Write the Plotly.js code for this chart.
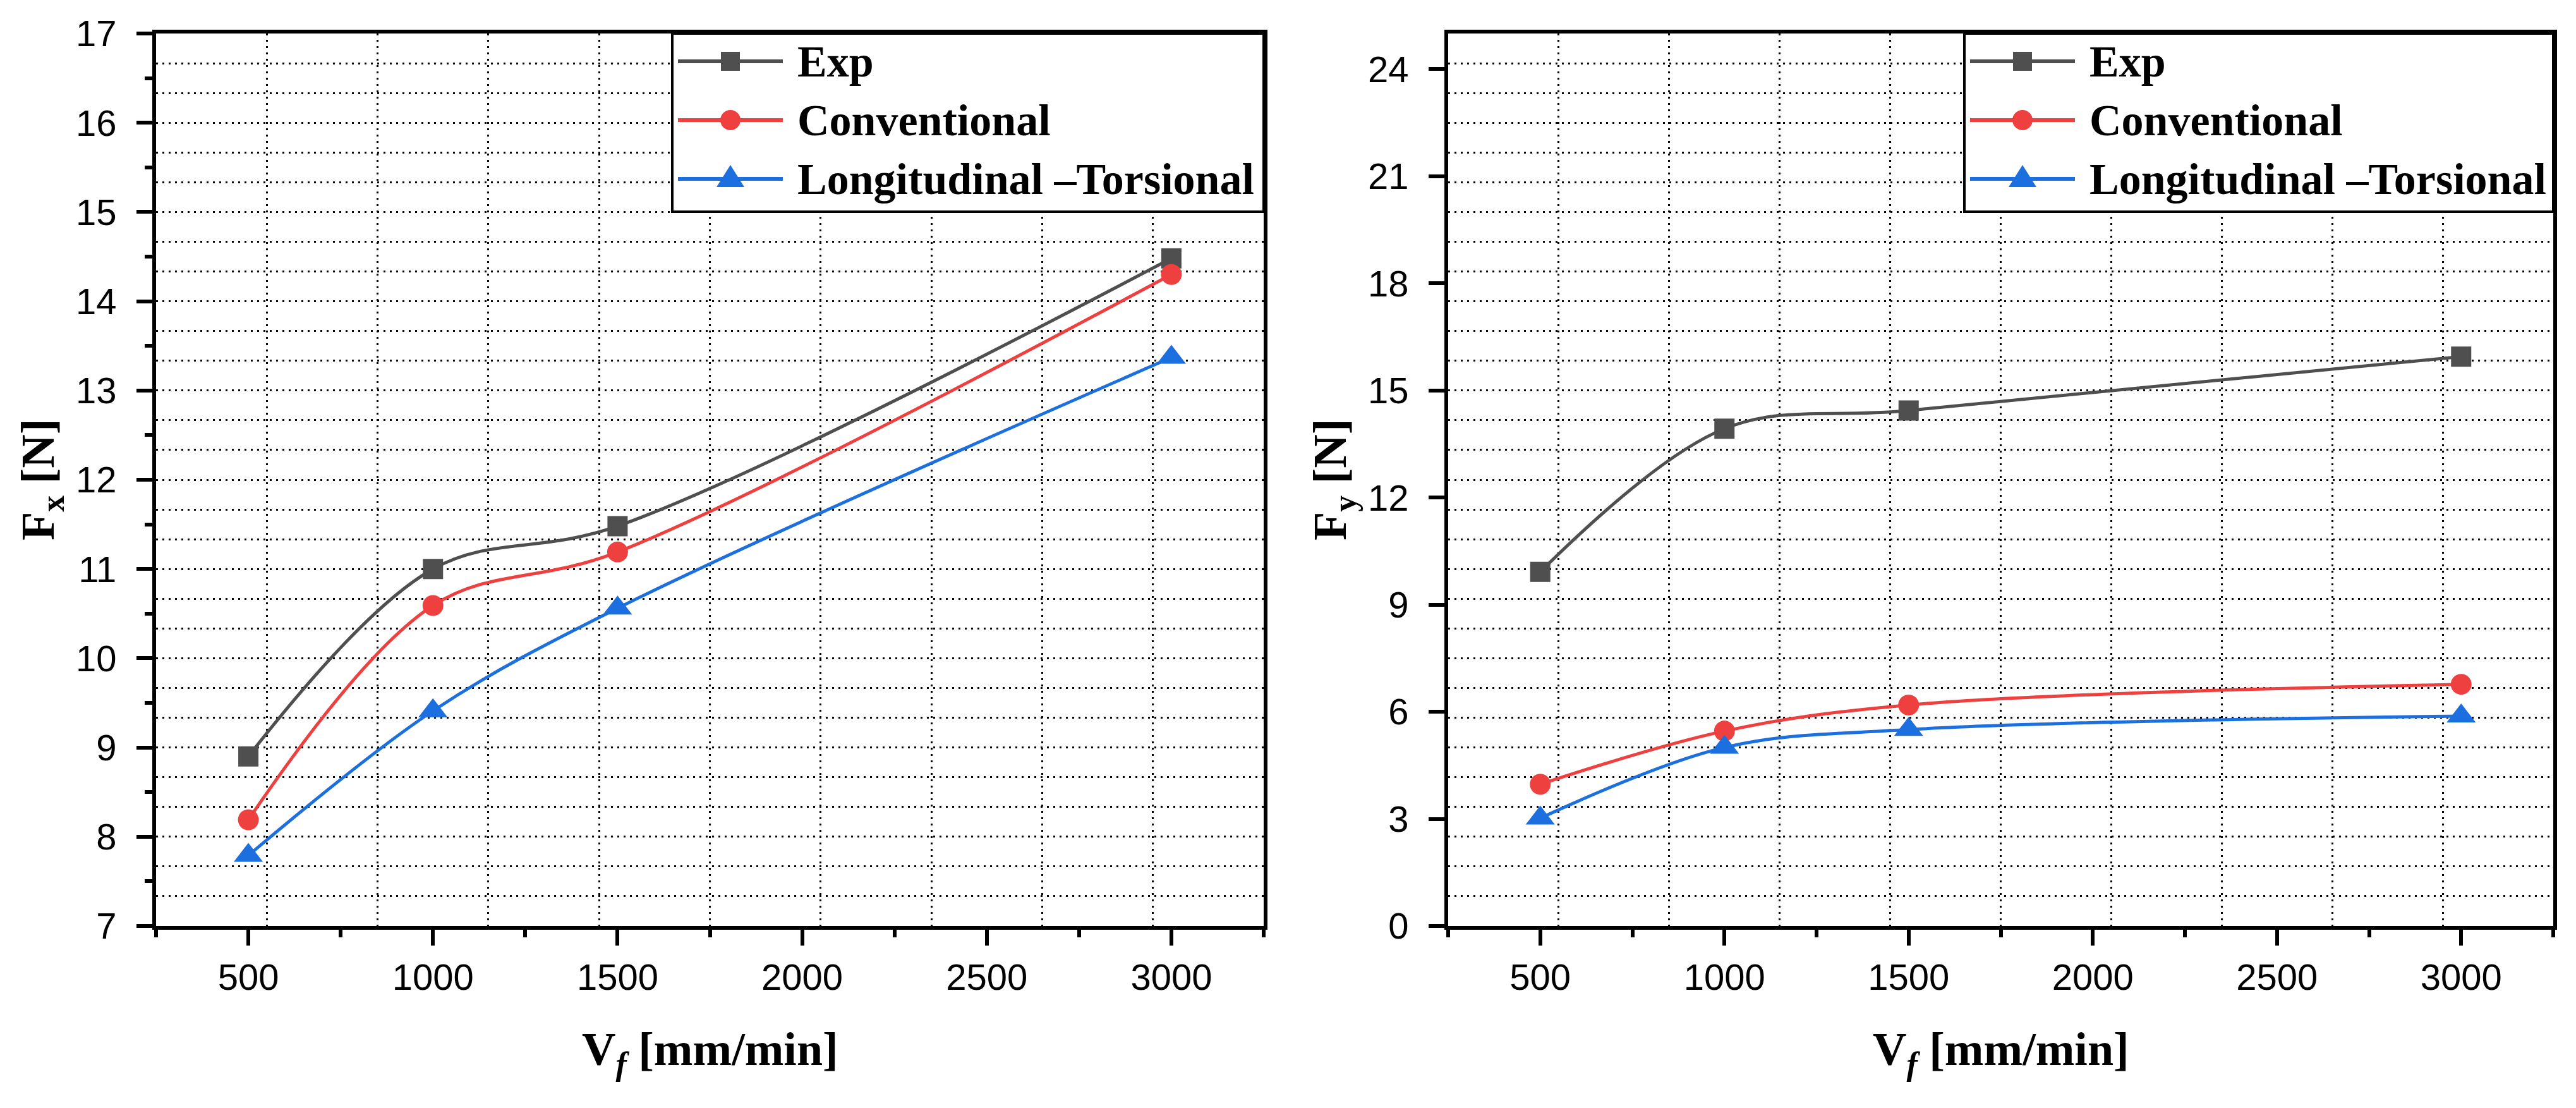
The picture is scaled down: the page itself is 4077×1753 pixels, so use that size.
<!DOCTYPE html>
<html>
<head>
<meta charset="utf-8">
<script src="https://cdn.plot.ly/plotly-3.0.1.min.js"></script>
<style>
  html, body { margin: 0; padding: 0; background: #fff; }
  #chart { width: 4077px; height: 1753px; }
</style>
</head>
<body>
<div id="chart"></div>
<script>
/* ── Cutting forces vs feed rate — two panels (Fx, Fy) ── */

const feedRate = [500, 1000, 1500, 3000];

const fxExp  = [8.9, 11.0, 11.48, 14.48];
const fxConv = [8.19, 10.59, 11.19, 14.3];
const fxLT   = [7.79, 9.41, 10.56, 13.37];

const fyExp  = [9.92, 13.93, 14.44, 15.95];
const fyConv = [3.97, 5.46, 6.19, 6.77];
const fyLT   = [3.02, 5.0, 5.5, 5.88];

const seriesNames = ["Exp", "Conventional", "Longitudinal \u2013Torsional"];

const X_RANGE  = [250, 3250];
const FX_RANGE = [7, 17];
const FY_RANGE = [0, 25];

const COLORS  = ["#4f4f4f", "#ef4040", "#1c6fdf"];
const SYMBOLS = ["square", "circle", "triangle-up"];
const SIZES   = [32, 33, 40];

/* ── pixel layout of the picture ── */
const W = 4077, H = 1753;
const PLOT_TOP = 53, PLOT_BOT = 1465;
const PANELS = [
  { left: 247,  right: 2000 },
  { left: 2292, right: 4041 },
];
const px = v => v / W;
const py = v => 1 - v / H;

const TICK_FONT   = { family: "Liberation Sans, Arial, sans-serif", size: 58, color: "#000" };
const SERIF_BOLD  = { family: "Liberation Serif, Times New Roman, serif", size: 74, color: "#000", weight: "bold" };
const LEGEND_FONT = { family: "Liberation Serif, Times New Roman, serif", size: 70, color: "#000", weight: "bold" };

const yDomain = [py(PLOT_BOT), py(PLOT_TOP)];

function mainX(p) {
  return {
    domain: [px(p.left), px(p.right)], range: X_RANGE,
    tickmode: "linear", tick0: 0, dtick: 500,
    ticks: "outside", ticklen: 25, tickwidth: 6, tickcolor: "#000",
    minor: { ticks: "outside", tick0: 0, dtick: 250, ticklen: 12, tickwidth: 6, tickcolor: "#000", showgrid: false },
    showline: true, linewidth: 6, linecolor: "#000", mirror: true,
    showgrid: false, zeroline: false, tickfont: TICK_FONT, fixedrange: true,
  };
}

function mainY(range, dtick, minorDtick) {
  const ax = {
    domain: yDomain, range,
    tickmode: "linear", tick0: 0, dtick,
    ticks: "outside", ticklen: 25, tickwidth: 6, tickcolor: "#000",
    ticklabelstandoff: 20,
    showline: true, linewidth: 6, linecolor: "#000", mirror: true,
    showgrid: false, zeroline: false, tickfont: TICK_FONT, fixedrange: true,
  };
  if (minorDtick) {
    ax.minor = { ticks: "outside", tick0: 0, dtick: minorDtick, ticklen: 12, tickwidth: 6, tickcolor: "#000", showgrid: false };
  }
  return ax;
}

/* grid-only axes: Origin style dotted grid, 10 x 30 divisions */
function gridAxis(over, anchor, range) {
  const span = range[1] - range[0];
  const div = over.startsWith("x") ? 10 : 30;
  return {
    overlaying: over, anchor, range,
    tickmode: "linear", tick0: range[0], dtick: span / div,
    showgrid: true, gridcolor: "#000", gridwidth: 3, griddash: "3px,7px",
    showticklabels: false, ticks: "", showline: false, zeroline: false, fixedrange: true,
  };
}

function seriesTrace(ys, k, xa, ya) {
  return {
    type: "scatter", mode: "lines+markers",
    x: feedRate, y: ys, xaxis: xa, yaxis: ya,
    name: seriesNames[k],
    line: { color: COLORS[k], width: 5, shape: "spline", smoothing: 1 },
    marker: { symbol: SYMBOLS[k], size: SIZES[k], color: COLORS[k], line: { width: 0 } },
    cliponaxis: false, showlegend: false, hoverinfo: "skip",
  };
}

const emptyTrace = (xa, ya) => ({ type: "scatter", x: [], y: [], xaxis: xa, yaxis: ya, showlegend: false, hoverinfo: "skip" });

const traces = [
  emptyTrace("x3", "y3"), emptyTrace("x4", "y4"),
  seriesTrace(fxExp, 0, "x", "y"), seriesTrace(fxConv, 1, "x", "y"), seriesTrace(fxLT, 2, "x", "y"),
  seriesTrace(fyExp, 0, "x2", "y2"), seriesTrace(fyConv, 1, "x2", "y2"), seriesTrace(fyLT, 2, "x2", "y2"),
];

/* ── legend boxes and axis titles ── */
const shapes = [];
const annotations = [];

function addLegend(p) {
  const boxLeft = p.left + 817;
  shapes.push({
    type: "rect", xref: "paper", yref: "paper",
    x0: px(boxLeft), x1: px(p.right), y0: py(PLOT_TOP), y1: py(335),
    fillcolor: "#fff", line: { color: "#000", width: 4 }, layer: "above",
  });
  seriesNames.forEach((name, k) => {
    const cy = 97 + k * 93;
    const mx = p.left + 909;
    shapes.push({
      type: "line", xref: "paper", yref: "paper",
      x0: px(p.left + 826), x1: px(p.left + 992), y0: py(cy), y1: py(cy),
      line: { color: COLORS[k], width: 6 }, layer: "above",
    });
    if (k === 0) {
      shapes.push({ type: "rect", xref: "paper", yref: "paper",
        x0: px(mx - 15), x1: px(mx + 15), y0: py(cy + 15), y1: py(cy - 15),
        fillcolor: COLORS[k], line: { width: 0 }, layer: "above" });
    } else if (k === 1) {
      shapes.push({ type: "circle", xref: "paper", yref: "paper",
        x0: px(mx - 16), x1: px(mx + 16), y0: py(cy + 16), y1: py(cy - 16),
        fillcolor: COLORS[k], line: { width: 0 }, layer: "above" });
    } else {
      const path = `M${px(mx - 22)},${py(cy + 13)} L${px(mx + 22)},${py(cy + 13)} L${px(mx)},${py(cy - 22)} Z`;
      shapes.push({ type: "path", xref: "paper", yref: "paper", path,
        fillcolor: COLORS[k], line: { width: 0 }, layer: "above" });
    }
    annotations.push({
      xref: "paper", yref: "paper", x: px(p.left + 1013), y: py(cy),
      xanchor: "left", yanchor: "middle", showarrow: false,
      text: name, font: LEGEND_FONT,
    });
  });
}
PANELS.forEach(addLegend);

const yTitles = ["F<sub>x</sub> [N]", "F<sub>y</sub> [N]"];
PANELS.forEach((p, i) => {
  annotations.push({
    xref: "paper", yref: "paper", x: px(p.left - 182), y: py((PLOT_TOP + PLOT_BOT) / 2),
    xanchor: "center", yanchor: "middle", textangle: -90, showarrow: false,
    text: yTitles[i], font: SERIF_BOLD,
  });
  annotations.push({
    xref: "paper", yref: "paper", x: px((p.left + p.right) / 2), y: py(1665),
    xanchor: "center", yanchor: "middle", showarrow: false,
    text: "V<sub><i>f</i></sub> [mm/min]", font: SERIF_BOLD,
  });
});

const layout = {
  width: W, height: H,
  margin: { l: 0, r: 0, t: 0, b: 0 },
  paper_bgcolor: "#fff", plot_bgcolor: "#fff",
  showlegend: false, hovermode: false,
  xaxis:  mainX(PANELS[0]),
  yaxis:  mainY(FX_RANGE, 1, 0.5),
  xaxis2: Object.assign(mainX(PANELS[1]), { anchor: "y2" }),
  yaxis2: Object.assign(mainY(FY_RANGE, 3, null), { anchor: "x2" }),
  xaxis3: gridAxis("x", "y3", X_RANGE),
  yaxis3: gridAxis("y", "x3", FX_RANGE),
  xaxis4: gridAxis("x2", "y4", X_RANGE),
  yaxis4: gridAxis("y2", "x4", FY_RANGE),
  shapes, annotations,
};

Plotly.newPlot("chart", traces, layout, { displayModeBar: false, staticPlot: true });
</script>
</body>
</html>
